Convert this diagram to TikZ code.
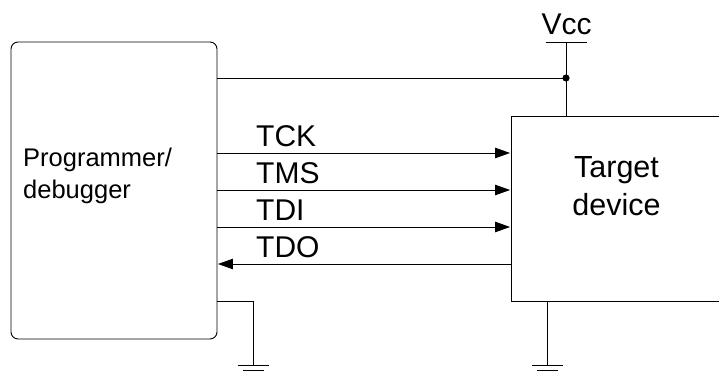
\documentclass[tikz,border=0pt]{standalone}
\usepackage{fontspec}
\setmainfont{Liberation Sans}
\usetikzlibrary{arrows.meta}

\tikzset{
  box/.style={draw, line width=0.9pt, inner sep=0pt, align=center},
  wire/.style={line width=0.8pt},
  signal/.style={wire, -{Triangle[length=15pt, width=10.5pt]}, shorten >=0.5pt},
  railbar/.style={line width=0.8pt},
  siglabel/.style={font=\fontsize{30}{30}\selectfont, anchor=base west, inner sep=0pt}
}

\begin{document}
\begin{tikzpicture}[x=1pt, y=-1pt]
    \useasboundingbox (0,0) rectangle (719,371);
    \node [box, rounded corners=7pt, minimum width=206pt, minimum height=297pt](programmer) at (114,190.5){};
    \node [font=\fontsize{25.5}{32}\selectfont, anchor=west, align=left, inner sep=0pt](progtext) at (23,175.5){Programmer/\\debugger};
    \node [box, minimum width=212pt, minimum height=185pt](target) at (617,208.5){};
    \node [font=\fontsize{30.5}{38}\selectfont, align=center, inner sep=0pt](targettext) at (616.5,186){Target\\device};

    \coordinate (vcc) at (566,42);
    \coordinate (tap) at (566,78);
    \coordinate (gndleft) at (253,365.5);
    \coordinate (gndright) at (547,365.5);

    % power and ground
    \draw [wire] (vcc) -- (vcc |- target.north);
    \draw [wire] (programmer.east |- tap) -- (tap);
    \fill (tap) circle (3.6pt);
    \draw [railbar] (vcc) ++ (-20.5,0) --++ (41,0);
    \node [font=\fontsize{30}{30}\selectfont, anchor=base, inner sep=0pt](vcclabel) at (566.5,35){Vcc};
    \draw [wire] (programmer.east |- target.south) -| (gndleft);
    \draw [wire] (target.south -| gndright) -- (gndright);
    \draw [railbar] (gndleft) ++ (-15.5,0) --++ (31,0);
    \draw [railbar] (gndleft) ++ (-10.5,4.5) --++ (21,0);
    \draw [railbar] (gndright) ++ (-15.5,0) --++ (31,0);
    \draw [railbar] (gndright) ++ (-10.5,4.5) --++ (21,0);

    % signals
    \draw [signal] (programmer.east |- 0,153) -- (target.west |- 0,153);
    \draw [signal] (programmer.east |- 0,190) -- (target.west |- 0,190);
    \draw [signal] (programmer.east |- 0,227) -- (target.west |- 0,227);
    \draw [signal] (target.west |- 0,264) -- (programmer.east |- 0,264);
    \node [siglabel](tck) at (256,146.5){TCK};
    \node [siglabel](tms) at (256,183.5){TMS};
    \node [siglabel](tdi) at (256,220.5){TDI};
    \node [siglabel](tdo) at (256,257.5){TDO};
  \end{tikzpicture}
\end{document}
